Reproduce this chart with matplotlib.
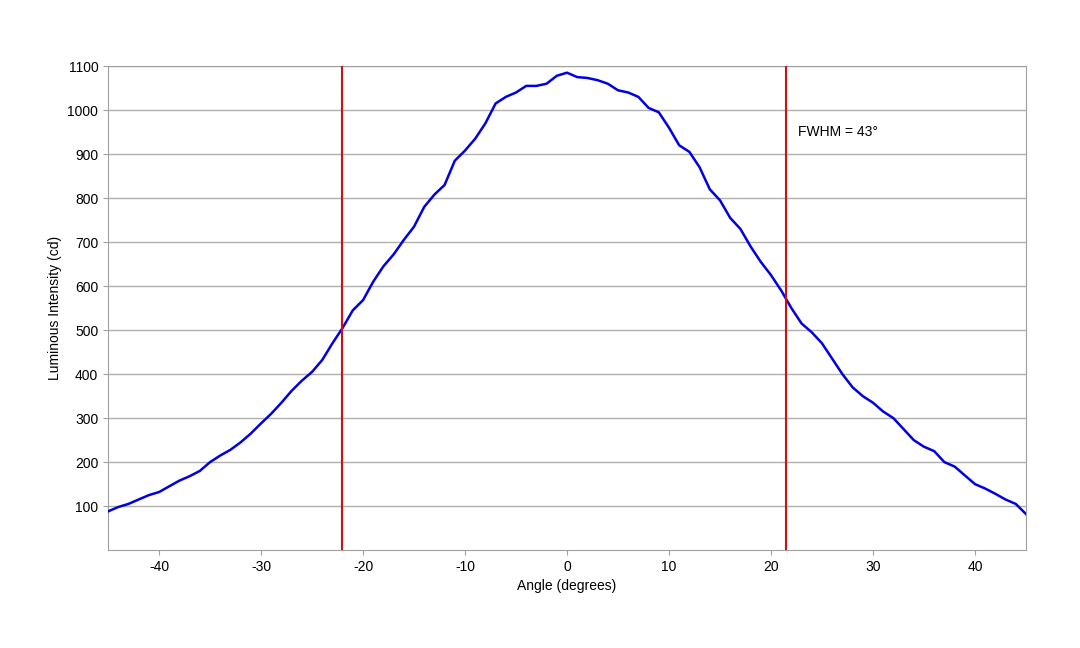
import numpy as np
import matplotlib
matplotlib.use("Agg")
import matplotlib.pyplot as plt

plt.rcParams["font.family"] = ["Liberation Sans", "DejaVu Sans"]
plt.rcParams["axes.unicode_minus"] = False

angles = list(range(-45, 46))
intensity = [88, 98, 105, 115, 125, 132, 145, 158, 168, 180,
             200, 215, 228, 245, 265, 288, 310, 335, 362, 385,
             405, 432, 470, 505, 545, 568, 610, 645, 672, 705,
             735, 780, 808, 830, 885, 908, 935, 970, 1015, 1030,
             1040, 1055, 1055, 1060, 1078, 1085, 1075, 1073, 1068, 1060,
             1045, 1040, 1030, 1005, 995, 960, 920, 905, 870, 820,
             795, 755, 730, 690, 655, 625, 590, 550, 515, 495,
             470, 435, 400, 370, 350, 335, 315, 300, 275, 250,
             235, 225, 200, 190, 170, 150, 140, 128, 115, 105, 82]
fwhm_lines = [-22.06, 21.47]
fwhm_label = "FWHM = 43°"

fig = plt.figure(figsize=(10.8, 6.48), dpi=100)
ax = fig.add_axes([0.1, 0.151, 0.85, 0.747])
ax.plot(angles, intensity, color="#0000e0", lw=1.8, zorder=3)
for xv in fwhm_lines:
    ax.axvline(xv, color="#d01010", lw=1.5, zorder=4)
ax.text(22.6, 950, fwhm_label, fontsize=10, va="center")

ax.set_xlim(-45, 45)
ax.set_ylim(0, 1100)
ax.set_xticks(range(-40, 41, 10))
ax.set_yticks(range(100, 1101, 100))
ax.yaxis.grid(True, color="#b0b0b0", lw=1)
ax.set_axisbelow(True)
for s in ax.spines.values():
    s.set_color("#a0a0a0")
ax.tick_params(colors="#a0a0a0", labelcolor="black", labelsize=10)
ax.set_xlabel("Angle (degrees)", fontsize=10)
ax.set_ylabel("Luminous Intensity (cd)", fontsize=10)
fig.savefig("out.png", dpi=100)
